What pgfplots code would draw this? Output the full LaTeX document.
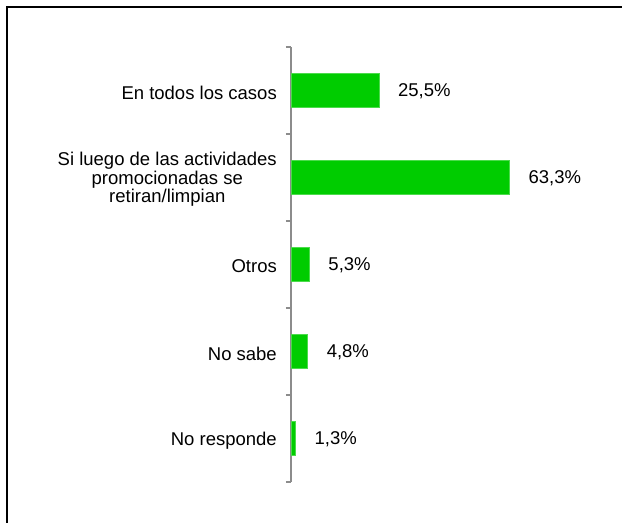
\documentclass[border=0pt]{standalone}
\usepackage{pgfplots}
\pgfplotsset{compat=1.18}
\usepackage{fontspec}
\setmainfont{Liberation Sans}
\definecolor{bargreen}{RGB}{0,204,0}
\definecolor{axgray}{RGB}{140,140,140}
\begin{document}
\begin{tikzpicture}
\useasboundingbox (0,0) rectangle (622bp,523bp);
\draw[line width=2.5bp] (7bp,0) -- (7bp,516bp) -- (622bp,516bp);
\begin{axis}[
  at={(291bp,41bp)}, anchor=south west,
  scale only axis, width=276bp, height=435bp,
  xbar, bar width=34bp,
  xmin=0, xmax=80,
  ymin=-0.5, ymax=4.5, y dir=reverse,
  axis x line=none, axis y line*=left,
  y axis line style={axgray, line width=1.2bp},
  ytick={0,1,2,3,4},
  yticklabels={En todos los casos,{Si luego de las actividades\\promocionadas se\\retiran/limpian},Otros,No sabe,No responde},
  minor ytick={-0.5,0.5,1.5,2.5,3.5,4.5},
  major tick length=0pt, minor tick length=5bp,
  tick align=outside,
  minor tick style={axgray, line width=1.2bp},
  yticklabel style={font=\fontsize{18.5bp}{18.5bp}\selectfont, align=center, inner sep=0pt, xshift=-14bp, yshift=-2bp},
  /pgf/number format/assume math mode=true,
  point meta=x,
  nodes near coords={\pgfmathprintnumber[fixed,fixed zerofill,precision=1,use comma,assume math mode=true]{\pgfplotspointmeta}\%},
  nodes near coords style={anchor=west, inner sep=0pt, xshift=19bp, yshift=-1bp, font=\fontsize{18.5bp}{18.5bp}\selectfont},
]
\addplot[fill=bargreen, draw=bargreen!70!white] table {
x y
25.5 0
63.3 1
5.3 2
4.8 3
1.3 4
};
\end{axis}
\end{tikzpicture}
\end{document}
